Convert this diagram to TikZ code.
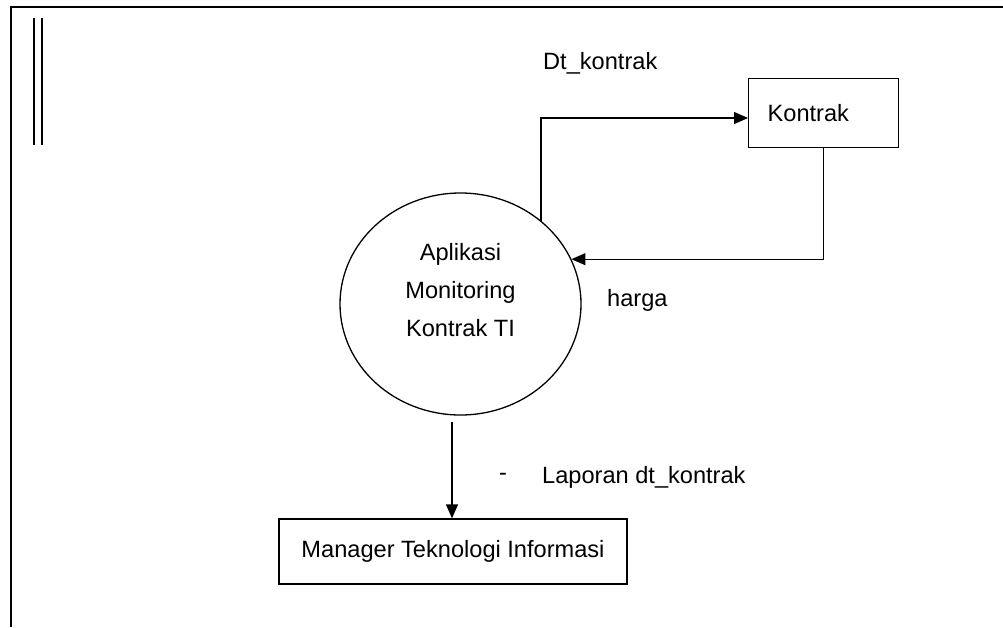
\documentclass[tikz,border=0pt]{standalone}
\usepackage{fontspec}
\setmainfont{Liberation Sans}
\usetikzlibrary{shapes.geometric,arrows.meta}
\begin{document}
\begin{tikzpicture}[x=1pt,y=-1pt,
  lbl/.style={font=\fontsize{23.6}{28}\selectfont, inner sep=0pt},
  flow/.style={line width=1.3pt, -{Triangle[length=14pt,width=12pt]}},
  boxnode/.style={draw, line width=1.3pt, font=\fontsize{23.6}{28}\selectfont},
  frame/.style={line width=2pt}]
\useasboundingbox (0,0) rectangle (1003,627);
% page frame
\draw[frame] (1003,7) -- (11,7) -- (11,627);
\draw[line width=1.5pt] (34,18) -- (34,145);
\draw[line width=1.5pt] (42,18) -- (42,145);
% nodes
\node[ellipse, draw, line width=1.3pt, minimum width=241pt, minimum height=222pt, inner sep=0pt,
      label={[lbl, align=center, yshift=14pt, font=\fontsize{23.6}{38}\selectfont]center:Aplikasi\\Monitoring\\Kontrak TI}] (proc) at (460.5,304) {};
\node[boxnode, anchor=north west, text width=112pt, inner xsep=19pt, align=left, minimum height=69pt] (kontrak) at (748,78) {Kontrak};
\node[boxnode, minimum width=348pt, minimum height=65pt] (mgr) at (453,551.5) {Manager Teknologi Informasi};
% connectors
\coordinate (dtk) at (748,118);
\draw[flow] (proc.46.5) |- (dtk);
\draw[flow] (kontrak.south) |- (proc.22);
\coordinate (lapstart) at (452,422);
\draw[flow] (lapstart) -- (lapstart |- mgr.north);
% labels
\node[lbl, anchor=west] (ldt) at (543,63) {Dt\_kontrak};
\node[lbl, anchor=west] (lharga) at (607,300) {harga};
\node[lbl] (ldash) at (503,477) {-};
\node[lbl, anchor=west] (llap) at (542,477) {Laporan dt\_kontrak};
\end{tikzpicture}
\end{document}
